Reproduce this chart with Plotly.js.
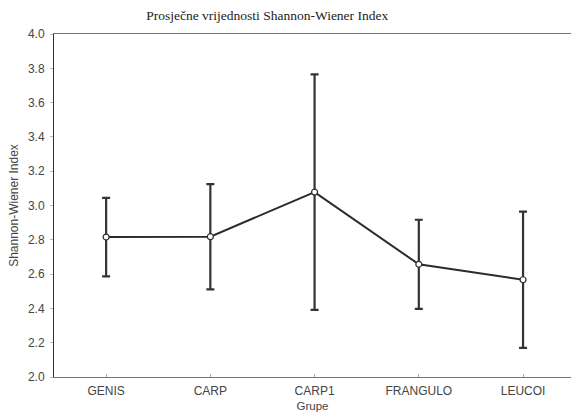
<!DOCTYPE html>
<html>
<head>
<meta charset="utf-8">
<script src="https://cdn.plot.ly/plotly-3.0.1.min.js"></script>
<style>html,body{margin:0;padding:0;background:#fff;overflow:hidden;}</style>
</head>
<body>
<div id="chart" style="width:571px;height:416px;"></div>
<script>
const groups = ["GENIS", "CARP", "CARP1", "FRANGULO", "LEUCOI"];
const means = [2.816, 2.818, 3.078, 2.657, 2.567];
const errors = [0.229, 0.307, 0.687, 0.26, 0.397];
const yTicks = [2.0, 2.2, 2.4, 2.6, 2.8, 3.0, 3.2, 3.4, 3.6, 3.8, 4.0];

const trace = {
  x: groups.map((g, i) => i),
  y: means,
  type: 'scatter',
  mode: 'lines+markers',
  line: {color: '#2b2b2b', width: 2},
  marker: {size: 6, color: '#ffffff', line: {color: '#2b2b2b', width: 1.2}},
  error_y: {type: 'data', array: errors, visible: true, color: '#333333', thickness: 2.2, width: 4},
  hoverinfo: 'skip'
};

const font = 'Liberation Sans, Arial, sans-serif';
const layout = {
  width: 571, height: 416,
  margin: {l: 54, r: 0, t: 34, b: 39},
  paper_bgcolor: '#ffffff', plot_bgcolor: '#ffffff',
  showlegend: false,
  title: {
    text: 'Prosječne vrijednosti Shannon-Wiener Index',
    font: {family: 'Liberation Serif, Times New Roman, serif', size: 13.5, color: '#222'},
    x: 0.468, xref: 'container', xanchor: 'center',
    y: 0.963, yref: 'container', yanchor: 'middle'
  },
  xaxis: {
    range: [-0.5, 4.46],
    tickmode: 'array', tickvals: [0, 1, 2, 3, 4], ticktext: groups,
    showgrid: false, zeroline: false,
    showline: true, linecolor: '#777', linewidth: 1, mirror: true,
    ticks: 'inside', ticklen: 3, tickcolor: '#aaa',
    ticklabelstandoff: 3,
    tickfont: {family: font, size: 12, color: '#444'},
    title: {text: 'Grupe', font: {family: font, size: 11.5, color: '#444'}, standoff: 4}
  },
  yaxis: {
    range: [2.0, 4.0],
    tickmode: 'array', tickvals: yTicks, ticktext: yTicks.map(v => v.toFixed(1)),
    showgrid: false, zeroline: false,
    showline: true, linecolor: '#333', linewidth: 1, mirror: false,
    ticks: 'outside', ticklen: 3, tickcolor: '#bbb',
    ticklabelstandoff: 3,
    tickfont: {family: font, size: 12, color: '#444'},
    title: {text: 'Shannon-Wiener Index', font: {family: font, size: 12, color: '#444'}, standoff: 6}
  }
};

Plotly.newPlot('chart', [trace], layout, {displayModeBar: false, staticPlot: true});
</script>
</body>
</html>
